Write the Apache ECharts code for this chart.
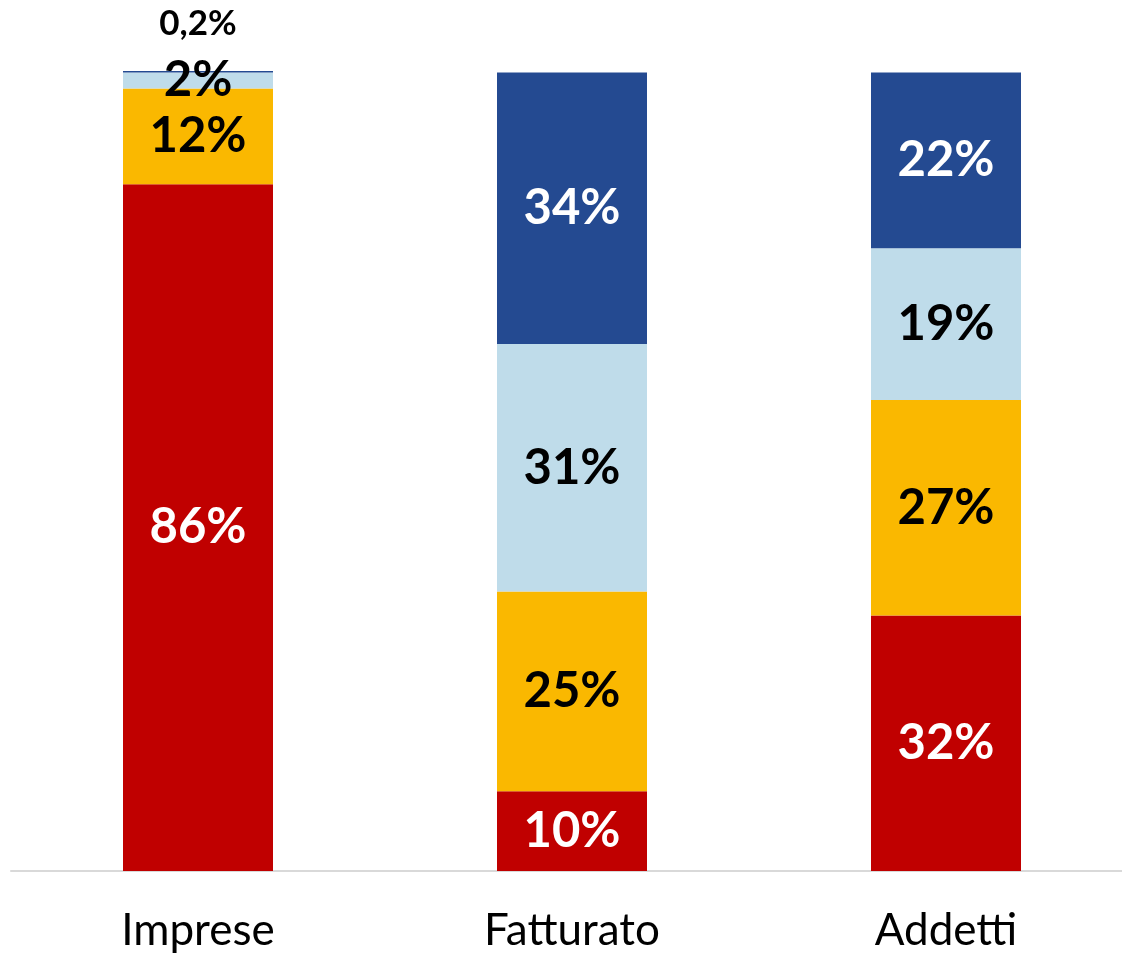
<!DOCTYPE html>
<html>
<head>
<meta charset="utf-8">
<script src="https://cdn.jsdelivr.net/npm/echarts@6/dist/echarts.min.js"></script>
<style>
  html, body { margin: 0; padding: 0; background: #ffffff; overflow: hidden; }
  #chart { width: 1144px; height: 961px; }
</style>
</head>
<body>
<div id="chart"></div>
<script>
// Categories along the x axis
const categories = ['Imprese', 'Fatturato', 'Addetti'];

// Shares (%) for each segment, bottom to top
const redShare = [86, 10, 32];
const yellowShare = [12, 25, 27];
const lightBlueShare = [2, 31, 19];
const darkBlueShare = [0.2, 34, 22];

const FONT = 'Lato, "Open Sans", sans-serif';

function fmt(v) {
  return String(v).replace('.', ',') + '%';
}

function segment(name, data, color, labelColor) {
  return {
    name: name,
    type: 'bar',
    stack: 'total',
    barWidth: 150,
    clip: false,
    itemStyle: { color: color },
    label: {
      show: true,
      position: 'inside',
      color: labelColor,
      fontFamily: FONT,
      fontWeight: 'bold',
      fontSize: 49,
      formatter: p => fmt(p.value)
    },
    data: data.slice()
  };
}

const series = [
  segment('red', redShare, '#C00000', '#ffffff'),
  segment('yellow', yellowShare, '#FAB800', '#000000'),
  segment('lightblue', lightBlueShare, '#BFDCEA', '#000000'),
  segment('darkblue', darkBlueShare, '#244A91', '#ffffff')
];

// The thin top segment of the first bar carries its label above the bar
series[3].data[0] = {
  value: darkBlueShare[0],
  label: {
    position: 'top',
    distance: 30,
    color: '#000000',
    fontSize: 35
  }
};

const chart = echarts.init(document.getElementById('chart'), null, { renderer: 'canvas' });
chart.setOption({
  animation: false,
  backgroundColor: '#ffffff',
  grid: { left: 11, width: 1122, top: 71, bottom: 90, containLabel: false },
  xAxis: {
    type: 'category',
    data: categories,
    axisTick: { show: false },
    axisLine: { lineStyle: { color: '#D9D9D9', width: 2 } },
    axisLabel: {
      color: '#000000',
      fontFamily: FONT,
      fontSize: 44,
      margin: 38
    }
  },
  yAxis: {
    type: 'value',
    min: 0,
    max: 100.2,
    show: false,
    splitLine: { show: false }
  },
  series: series
});
</script>
</body>
</html>
